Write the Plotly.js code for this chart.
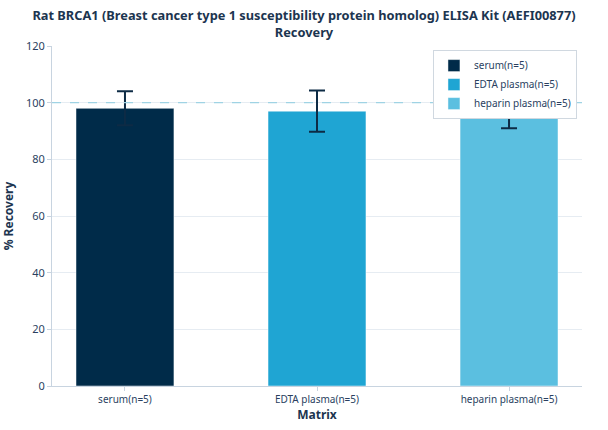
<!DOCTYPE html>
<html>
<head>
<meta charset="utf-8">
<script src="https://cdn.plot.ly/plotly-3.0.1.min.js"></script>
<style>html,body{margin:0;padding:0;background:#fff;}#chart{width:608px;height:430px;}</style>
</head>
<body>
<div id="chart"></div>
<script>
const categories = ["serum(n=5)", "EDTA plasma(n=5)", "heparin plasma(n=5)"];
const recovery = [98, 97, 97];
const errors = [6, 7.3, 6];
const colors = ["#002b49", "#1fa5d3", "#5bbfe0"];
const yTicks = [0, 20, 40, 60, 80, 100, 120];
const refLine = 100;

const traces = categories.map((c, i) => ({
  type: "bar",
  name: c,
  x: [c],
  y: [recovery[i]],
  width: 0.51,
  marker: {color: colors[i], line: {color: "rgba(255,255,255,0.6)", width: 0.8}},
  error_y: {type: "data", array: [errors[i]], visible: true, color: "#0d2b45", thickness: 2, width: 8}
}));

const font = "'Noto Sans', 'Open Sans', sans-serif";
const layout = {
  width: 608, height: 430,
  margin: {l: 52, r: 26, t: 46, b: 44},
  paper_bgcolor: "#fff", plot_bgcolor: "#fff",
  barmode: "overlay",
  font: {family: font, size: 11, color: "#2a3f5f"},
  title: {text: "<b>Rat BRCA1 (Breast cancer type 1 susceptibility protein homolog) ELISA Kit (AEFI00877)<br>Recovery</b>",
          font: {family: font, size: 12.8, color: "#1c3550"}, x: 0.5, xanchor: "center",
          yref: "container", y: 0.953, yanchor: "middle"},
  xaxis: {title: {text: "<b>Matrix</b>", font: {size: 12, color: "#1c3550"}, standoff: 4},
          categoryorder: "array", categoryarray: categories, range: [-0.38, 2.38],
          showline: true, linecolor: "#c8d4e0", linewidth: 1,
          ticks: "outside", ticklen: 4, tickcolor: "#c8d4e0",
          tickfont: {size: 10, color: "#2a3f5f"}, showgrid: false},
  yaxis: {title: {text: "<b>% Recovery</b>", font: {size: 12, color: "#1c3550"}, standoff: 10},
          range: [0, 120], tickvals: yTicks, ticktext: yTicks.map(String),
          showline: true, linecolor: "#c8d4e0", linewidth: 1,
          ticks: "outside", ticklen: 4, tickcolor: "#c8d4e0",
          gridcolor: "#e6ecf2", zeroline: false,
          tickfont: {size: 11, color: "#2a3f5f"}},
  legend: {x: 0.9905, xanchor: "right", y: 0.988, yanchor: "top",
           bgcolor: "#fff", bordercolor: "#d0d8e0", borderwidth: 1,
           tracegroupgap: 0, itemwidth: 30,
           font: {size: 10, color: "#2a3f5f"}},
  shapes: [{type: "line", xref: "paper", x0: 0, x1: 1, yref: "y", y0: refLine, y1: refLine,
            line: {color: "#9fd3e4", width: 1.3, dash: "dash"}, layer: "above"}]
};

Plotly.newPlot("chart", traces, layout, {displayModeBar: false, staticPlot: true});
</script>
</body>
</html>
